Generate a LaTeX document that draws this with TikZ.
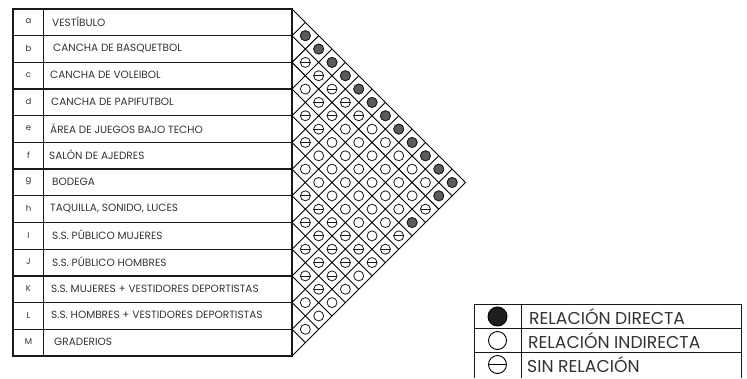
\documentclass[tikz,border=0pt]{standalone}
\usepackage{fontspec}
\setmainfont{Poppins}
\definecolor{txt}{HTML}{333333}
\definecolor{darkfill}{HTML}{5A5A5A}
\definecolor{legfill}{HTML}{1E1E1E}
\tikzset{
  tline/.style={line width=1.3pt, draw=black!90},
  gline/.style={line width=0.9pt, draw=black},
  cellc/.style={circle, draw=black!90, line width=0.8pt, minimum size=10pt, inner sep=0pt},
  lbl/.style={font=\fontsize{8.5}{9}\selectfont, text=txt, inner sep=0pt},
  nm/.style={anchor=west, font=\fontsize{10.5}{11}\selectfont, text=txt, inner sep=0pt},
  leg/.style={anchor=west, font=\fontsize{17.2}{18}\selectfont, text=txt, inner sep=0pt},
  lgline/.style={line width=1pt, draw=black!90},
  legc/.style={circle, draw=black, line width=0.9pt, minimum size=18pt, inner sep=0pt},
}
\begin{document}
\begin{tikzpicture}[x=1pt,y=-1pt]
\useasboundingbox (0,0) rectangle (747,378);
\fill[white] (0,0) rectangle (747,378);
\def\hh{26.69}
% ---- table
\foreach \k/\l/\n/\dx in {0/a/VESTÍBULO/2, 1/b/CANCHA DE BASQUETBOL/3, 2/c/CANCHA DE VOLEIBOL/0, 3/d/CANCHA DE PAPIFUTBOL/1, 4/e/ÁREA DE JUEGOS BAJO TECHO/0, 5/f/SALÓN DE AJEDRES/-1, 6/g/BODEGA/2, 7/h/{TAQUILLA, SONIDO, LUCES}/0, 8/I/S.S. PÚBLICO MUJERES/2, 9/J/S.S. PÚBLICO HOMBRES/2, 10/K/S.S. MUJERES + VESTIDORES DEPORTISTAS/1, 11/L/S.S. HOMBRES + VESTIDORES DEPORTISTAS/1, 12/M/GRADERIOS/4}{
  \pgfmathsetmacro\yc{9+(\k+0.5)*\hh-0.8}
  \node[lbl] (let\k) at (28.5,\yc) {\l};
  \node[nm] (nam\k) at (50+\dx,\yc) {\n};
}
\foreach \k in {1,...,12}{
  \draw[tline] (13,{9+\k*\hh}) -- (292,{9+\k*\hh});
}
\draw[tline] (13,9) rectangle (292,356);
\draw[tline] (43.5,9) -- (43.5,356);
% ---- diagonal grid
\foreach \k in {0,...,13}{
  \coordinate (s\k) at (292,{9+\k*\hh});
  \coordinate (u\k) at ({292+\k*\hh/2},{9+\k*\hh/2});
  \coordinate (d\k) at ({292+(13-\k)*\hh/2},{9+\k*\hh+(13-\k)*\hh/2});
  \draw[gline] (u\k) -- (s\k) -- (d\k);
}
% ---- cells
\foreach \i in {0,...,11}{
  \pgfmathtruncatemacro\jj{\i+1}
  \foreach \j in {\jj,...,12}{
    \node[cellc] (c\i-\j) at ({292+(\j-\i)*\hh/2},{9+(\i+\j+1)*\hh/2}) {};
  }
}
% direct relation
\foreach \c in {0-1,0-2,0-3,0-4,0-5,0-6,0-7,0-8,0-9,0-10,0-11,0-12,1-12,3-12}{
  \fill[darkfill] (c\c.center) circle (4.6pt);
  \draw[black!90, line width=0.8pt] (c\c.center) circle (5pt);
}
% no relation
\foreach \c in {1-2,1-3,1-4,1-5,1-6,2-4,2-5,2-12,3-4,3-5,4-5,4-12,5-12,6-7,6-8,6-9,6-10,6-11,6-12,7-8,7-9,7-10,7-11,8-9,8-10,8-11,9-10,9-11}{
  \draw[black!90, line width=0.8pt] (c\c.west) -- (c\c.east);
}
% ---- legend
\foreach \y in {304,328,352}{
  \draw[lgline] (474,\y) -- (741,\y);
}
\draw[lgline] (474,304) -- (474,378);
\draw[lgline] (521.5,304) -- (521.5,378);
\draw[lgline] (741,304) -- (741,378);
\node[legc, fill=legfill, minimum size=19pt] (ld) at (497.5,316.5) {};
\node[legc] (li) at (497.5,340.5) {};
\node[legc] (ls) at (497.5,364.5) {};
\draw[black, line width=0.9pt] (ls.west) -- (ls.east);
\node[leg] (td) at (529,316.5) {RELACIÓN DIRECTA};
\node[leg] (ti) at (528,340.5) {RELACIÓN INDIRECTA};
\node[leg] (ts) at (527,364.5) {SIN RELACIÓN};
\end{tikzpicture}
\end{document}
